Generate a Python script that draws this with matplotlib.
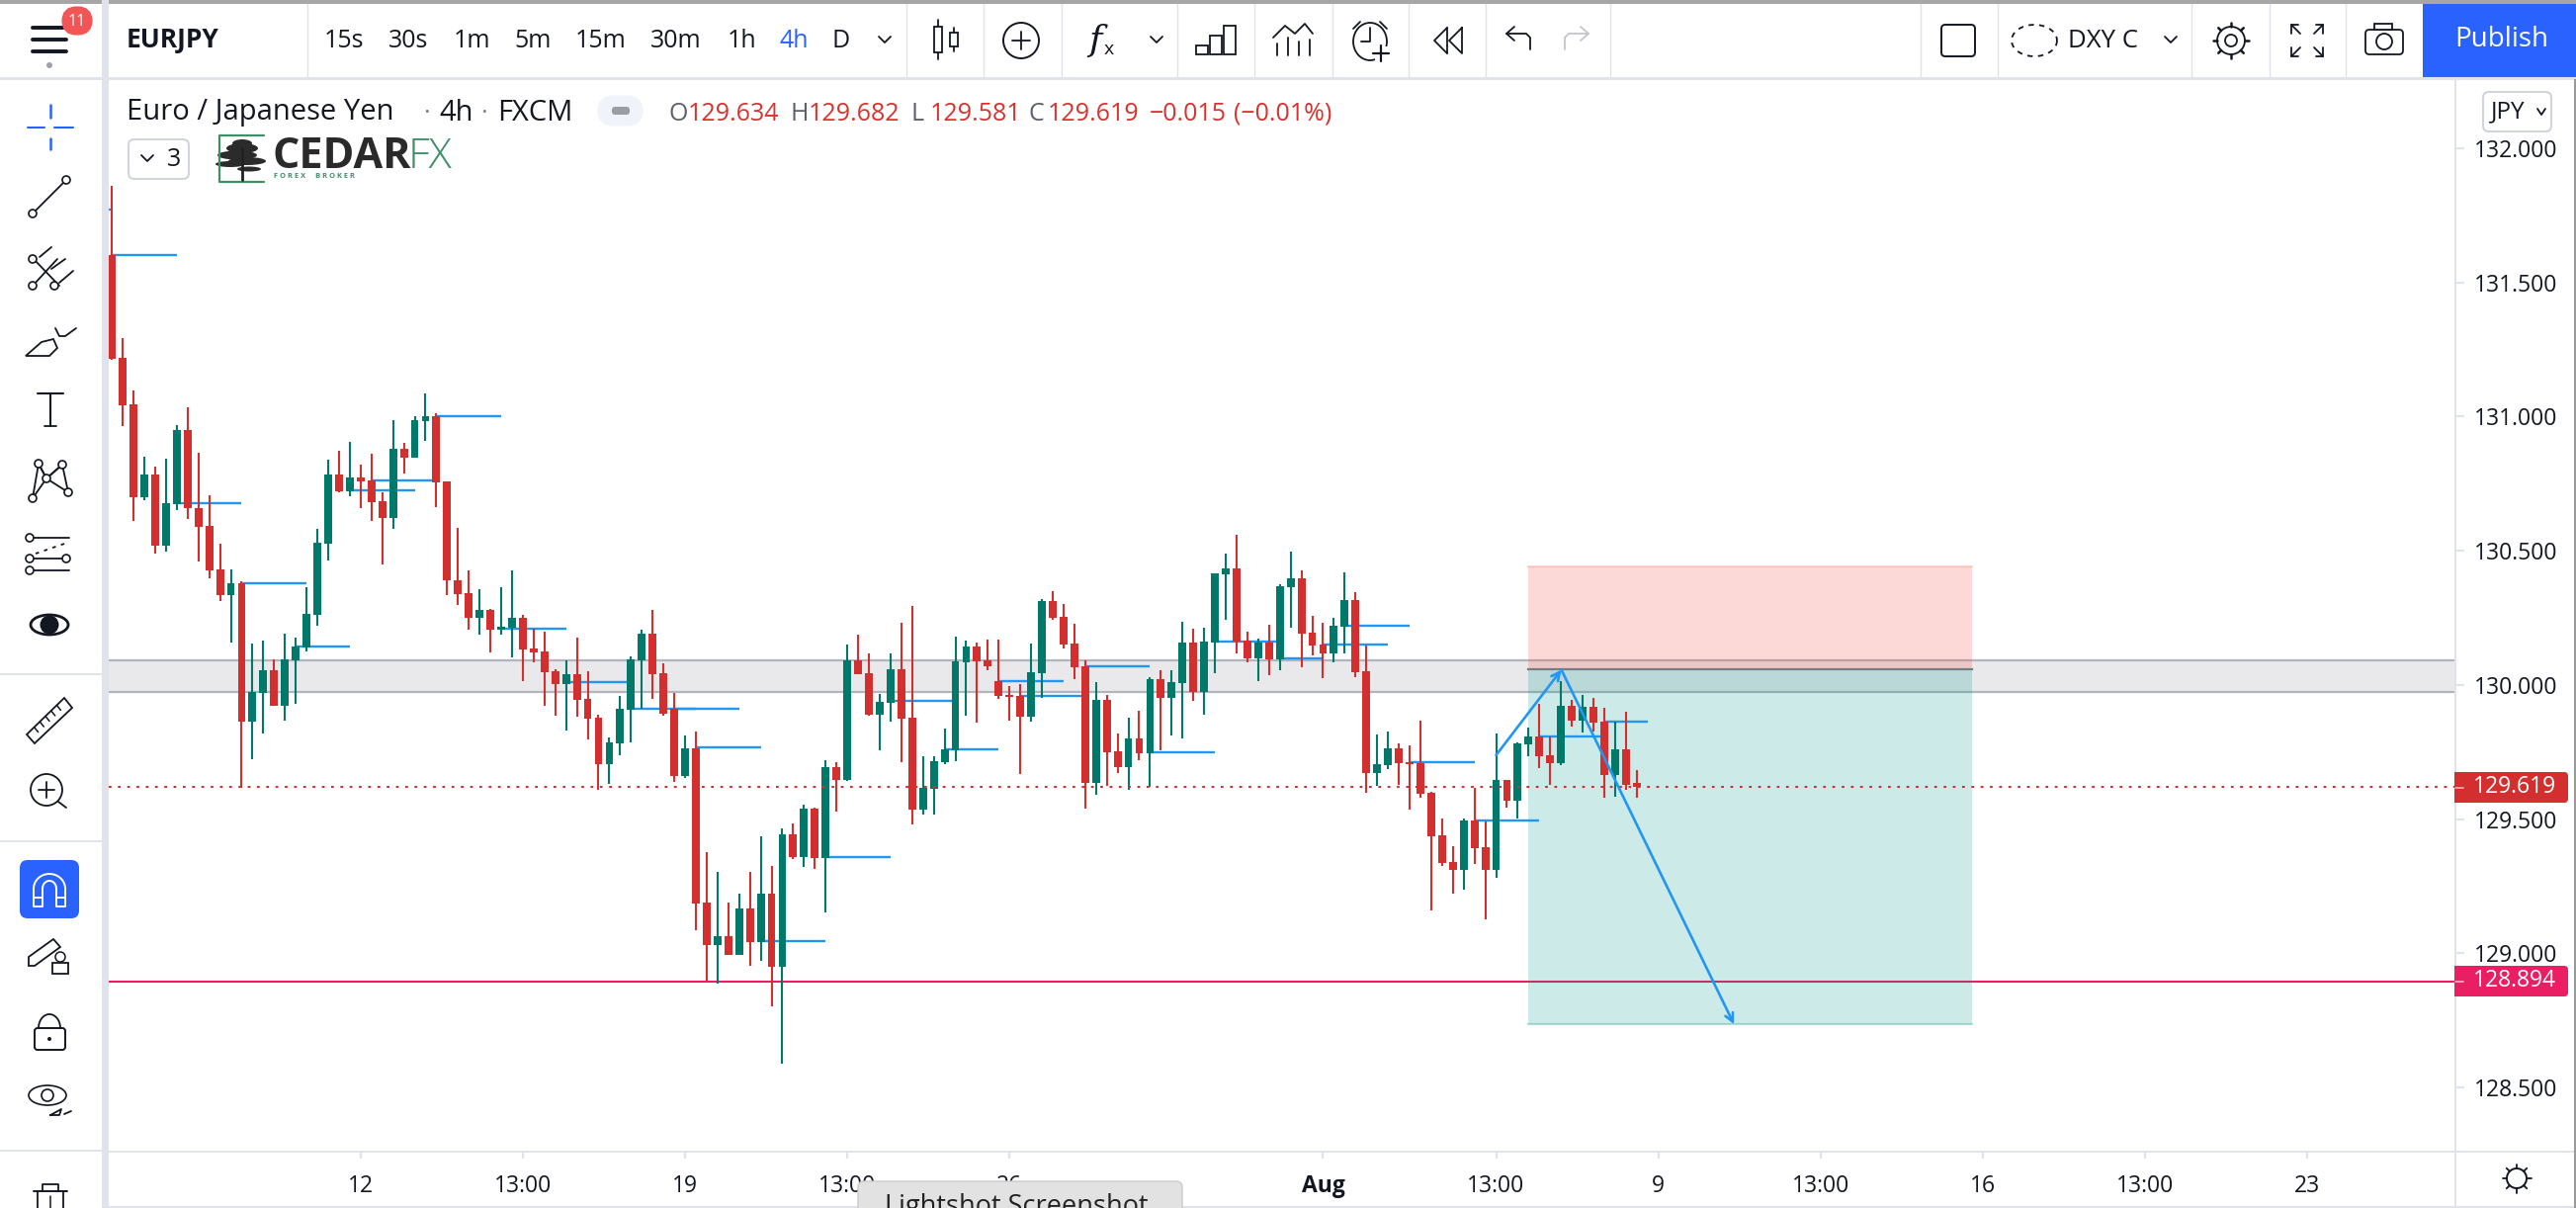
import matplotlib
matplotlib.use('Agg')
import matplotlib.pyplot as plt
from matplotlib.patches import Rectangle, FancyBboxPatch, Circle, Ellipse, Polygon
import numpy as np

plt.rcParams['font.family'] = ['Open Sans', 'DejaVu Sans']

# Candles, 4h EURJPY
opens = [131.603,131.219,131.046,130.701,130.784,130.517,130.675,130.950,130.659,130.593,
         130.431,130.336,130.379,129.864,129.971,130.054,129.922,130.091,130.139,130.262,
         130.528,130.784,130.722,130.773,130.762,130.685,130.623,130.880,130.848,130.984,
         131.002,130.759,130.390,130.342,130.251,130.280,130.207,130.213,130.250,130.135,
         130.124,130.051,130.003,130.040,129.947,129.877,129.704,129.782,129.907,130.091,
         130.191,130.043,129.911,129.660,129.763,129.189,129.030,129.063,128.993,129.166,
         129.041,129.222,128.949,129.443,129.358,129.539,129.354,129.693,129.645,130.091,
         130.043,129.889,129.933,130.059,129.878,129.535,129.613,129.712,129.757,130.084,
         130.143,130.092,130.014,129.963,129.959,129.882,130.044,130.313,130.254,130.154,
         130.070,129.635,129.944,129.753,129.694,129.801,129.745,130.022,129.952,130.007,
         130.158,129.974,130.158,130.412,130.434,130.165,130.099,130.158,130.095,130.364,
         130.398,130.195,130.151,130.118,130.217,130.316,130.051,129.672,129.701,129.764,
         129.712,129.710,129.598,129.439,129.340,129.310,129.495,129.395,129.310,129.646,
         129.568,129.778,129.808,129.738,129.708,129.922,129.867,129.918,129.863,129.664,
         129.760,129.634]
closes = [131.214,131.042,130.701,130.784,130.517,130.677,130.950,130.657,130.590,130.428,
          130.336,130.379,129.864,129.973,130.054,129.922,130.095,130.143,130.265,130.530,
          130.784,130.722,130.773,130.760,130.682,130.623,130.880,130.848,130.987,131.002,
          130.756,130.388,130.340,130.251,130.280,130.207,130.217,130.250,130.133,130.121,
          130.047,130.003,130.040,129.944,129.874,129.704,129.785,129.911,130.095,130.191,
          130.040,129.892,129.660,129.763,129.185,129.030,129.063,128.993,129.166,129.041,
          129.222,128.949,129.443,129.358,129.539,129.354,129.693,129.645,130.091,130.040,
          129.889,129.936,130.059,129.874,129.535,129.617,129.716,129.760,130.088,130.143,
          130.088,130.070,129.959,129.955,129.882,130.048,130.313,130.250,130.151,130.066,
          129.635,129.944,129.749,129.694,129.801,129.745,130.022,129.952,130.011,130.158,
          129.974,130.162,130.416,130.434,130.162,130.099,130.158,130.095,130.368,130.398,
          130.191,130.147,130.118,130.221,130.316,130.048,129.672,129.705,129.764,129.709,
          129.705,129.594,129.436,129.336,129.310,129.495,129.391,129.310,129.646,129.568,
          129.782,129.808,129.734,129.708,129.922,129.867,129.918,129.859,129.664,129.760,
          129.627,129.619]
highs = [131.861,131.293,131.097,130.851,130.814,130.843,130.968,131.035,130.865,130.707,
         130.526,130.431,130.385,130.154,130.165,130.095,130.191,130.176,130.364,130.582,
         130.840,130.873,130.906,130.821,130.862,130.718,130.987,130.902,131.002,131.086,
         131.013,130.759,130.585,130.427,130.357,130.283,130.364,130.427,130.261,130.209,
         130.198,130.058,130.091,130.176,130.051,129.889,129.804,129.959,130.106,130.205,
         130.280,130.080,129.970,129.811,129.826,129.376,129.303,129.189,129.222,129.303,
         129.435,129.325,129.465,129.483,129.553,129.542,129.719,129.712,130.150,130.187,
         130.117,129.966,130.118,130.232,130.294,129.734,129.734,129.838,130.180,130.165,
         130.158,130.169,130.169,129.996,130.003,130.154,130.320,130.350,130.302,130.228,
         130.092,130.011,129.963,129.819,129.878,129.904,130.029,130.055,130.055,130.235,
         130.210,130.213,130.416,130.490,130.560,130.199,130.173,130.224,130.375,130.497,
         130.427,130.258,130.232,130.250,130.420,130.346,130.147,129.815,129.826,129.782,
         129.775,129.867,129.601,129.502,129.399,129.502,129.616,129.491,129.819,129.646,
         129.786,129.841,129.929,129.808,130.014,129.944,129.963,129.951,129.915,129.863,
         129.900,129.682]
lows = [131.212,130.965,130.612,130.690,130.490,130.495,130.653,130.620,130.458,130.399,
        130.314,130.157,129.617,129.723,129.819,129.922,129.866,129.929,130.124,130.222,
        130.465,130.718,130.704,130.657,130.612,130.447,130.583,130.789,130.848,130.911,
        130.664,130.336,130.296,130.207,130.189,130.121,130.187,130.102,130.014,130.084,
        129.922,129.885,129.830,129.881,129.796,129.609,129.631,129.737,129.785,129.911,
        129.947,129.885,129.638,129.653,129.085,128.898,128.886,128.993,128.993,128.953,
        128.971,128.802,128.589,129.351,129.321,129.314,129.152,129.527,129.642,130.040,
        129.885,129.756,129.863,129.712,129.480,129.517,129.517,129.705,129.716,129.885,
        129.860,130.055,129.948,129.867,129.668,129.863,129.952,130.243,130.136,130.022,
        129.539,129.591,129.624,129.672,129.609,129.720,129.620,129.757,129.812,129.801,
        129.941,129.889,130.044,130.243,130.118,130.084,130.014,130.037,130.055,130.213,
        130.066,130.110,130.025,130.084,130.118,130.029,129.598,129.624,129.687,129.628,
        129.535,129.580,129.159,129.325,129.222,129.237,129.332,129.126,129.281,129.543,
        129.502,129.734,129.690,129.627,129.701,129.845,129.823,129.826,129.579,129.583,
        129.609,129.581]

# Short blue level lines: price, first bar, last bar
level_prices = [131.773,131.603,130.679,130.379,131.003,130.762,130.725,130.210,130.143,130.009,
                129.911,129.911,129.766,129.044,129.358,129.939,129.760,130.014,129.959,130.070,
                129.749,130.163,130.099,130.221,130.151,129.713,129.495,129.808,129.863]
level_starts = [-0.3,0,6,12,30,24,22,36,17,42,48,52,54,60,66,72,77,82,84,90,96,102,108,114,112,120,126,132,138]
level_ends = [0,6,12,18,36,30,28,42,22,48,54,58,60,66,72,78,82,88,90,96,102,108,112,120,118,126,132,138,142]

# Axis ticks
price_ticks = [128.5, 129.0, 129.5, 130.0, 130.5, 131.0, 131.5, 132.0]
time_ticks = [23, 38, 53, 68, 83, 112, 128, 143, 158, 173, 188, 203]
time_labels = ['12', '13:00', '19', '13:00', '26', 'Aug', '13:00', '9', '13:00', '16', '13:00', '23']

# Drawings on the chart
zone_low, zone_high = 129.973, 130.092
last_price = 129.619
target_line = 128.894
position_left, position_right = 131, 172
position_stop, position_entry, position_target = 130.440, 130.060, 128.735
path_x = [128, 134.04, 150]
path_y = [129.738, 130.056, 128.735]

W, H = 2606, 1222
GREEN, RED = '#00796b', '#d32f2f'
BLUE = '#2196f3'
INK = '#131722'
EDGE = '#e0e3eb'
ACCENT = '#2962ff'

fig = plt.figure(figsize=(W / 100, H / 100), dpi=100, facecolor='white')

# Main price pane, x is the bar number
ax = fig.add_axes([110 / W, 1 - 1164 / H, (2484 - 110) / W, (1164 - 80) / H])
ax.set_xlim((110 - 113.2) / 10.94, (2484 - 113.2) / 10.94)
ax.set_ylim(132 - (1164 - 150) / 271.4, 132 + 70 / 271.4)
for s in ax.spines.values():
    s.set_visible(False)
ax.yaxis.tick_right()
ax.set_yticks(price_ticks)
ax.set_yticklabels(['%.3f' % p for p in price_ticks], fontsize=16.5, color=INK)
ax.set_xticks(time_ticks)
ax.set_xticklabels(time_labels, fontsize=16.5, color=INK)
ax.get_xticklabels()[5].set_fontweight('bold')
ax.tick_params(axis='y', length=6.5, width=1.6, color=EDGE, pad=7)
ax.tick_params(axis='x', length=6, width=1.6, color=EDGE, pad=11)

ax.axhspan(zone_low, zone_high, color='#787b86', alpha=0.16, lw=0, zorder=1)
ax.axhline(zone_low, color='#b2b5be', lw=1.6, zorder=1)
ax.axhline(zone_high, color='#b2b5be', lw=1.6, zorder=1)
ax.axhline(target_line, color='#e91e63', lw=1.5, zorder=1)

# Position tool
ax.add_patch(Rectangle((position_left, position_entry), position_right - position_left,
                       position_stop - position_entry, fc='#f44336', alpha=0.2, lw=0, zorder=2))
ax.add_patch(Rectangle((position_left, position_target), position_right - position_left,
                       position_entry - position_target, fc='#009688', alpha=0.2, lw=0, zorder=2))
ax.plot([position_left, position_right], [position_entry] * 2, color='#787b86', lw=1.6, zorder=2)
ax.plot([position_left, position_right], [position_stop] * 2, color='#f44336', alpha=0.2, lw=1.5, zorder=2)
ax.plot([position_left, position_right], [position_target] * 2, color='#009688', alpha=0.3, lw=1.5, zorder=2)

# Candles
x = np.arange(len(opens))
o, c, h, l = np.array(opens), np.array(closes), np.array(highs), np.array(lows)
colors = [GREEN if a >= b else RED for a, b in zip(c, o)]
ax.vlines(x, l, h, colors=colors, lw=1.5, zorder=4)
ax.bar(x, np.maximum(np.abs(c - o), 0.006), bottom=np.minimum(o, c), width=0.72, color=colors, lw=0, zorder=4)

ax.hlines(level_prices, level_starts, level_ends, colors=BLUE, lw=1.7, zorder=3)
ax.axhline(last_price, color=RED, lw=1.5, ls=(0, (1.3, 3.2)), zorder=5)

# Blue zigzag with arrow heads
for i in range(2):
    ax.annotate('', xy=(path_x[i + 1], path_y[i + 1]), xytext=(path_x[i], path_y[i]),
                arrowprops=dict(arrowstyle='->', color=BLUE, lw=1.9, mutation_scale=15,
                                shrinkA=0, shrinkB=0), zorder=6)

# Everything around the chart is drawn in pixel coordinates on a clear overlay
ui = fig.add_axes([0, 0, 1, 1], facecolor='none')
ui.set_xlim(0, W)
ui.set_ylim(H, 0)
ui.axis('off')


def line(xs, ys, color=INK, lw=1.3, **kw):
    ui.plot(xs, ys, color=color, lw=lw, solid_capstyle='round', **kw)


def label(px, py, s, size=16, color=INK, ha='left', **kw):
    ui.text(px, py, s, fontsize=size, color=color, ha=ha, va='center', **kw)


def ring(px, py, r=4, lw=1.2, color=INK):
    ui.add_patch(Circle((px, py), r, fc='white', ec=color, lw=lw, zorder=5))


def chevron(px, py, w=6, color=INK):
    line([px - w, px, px + w], [py - 3, py + 3, py - 3], color=color)


# Frame of the panes
ui.add_patch(Rectangle((0, 0), W, 4, fc='#a6a6a6', lw=0))
ui.add_patch(Rectangle((0, 78), W, 2.5, fc=EDGE, lw=0))
ui.add_patch(Rectangle((103, 0), 7, H, fc=EDGE, lw=0))
ui.add_patch(Rectangle((110, 1163.5), W - 110, 2.5, fc=EDGE, lw=0))
ui.add_patch(Rectangle((2482.5, 80), 2, H - 80, fc=EDGE, lw=0))
ui.add_patch(Rectangle((110, 1219.5), W - 110, 3, fc=EDGE, lw=0))
ui.add_patch(Rectangle((2604, 80), 2, H - 80, fc='#9a9a9a', lw=0))
for py in [681, 850, 1163]:
    ui.add_patch(Rectangle((0, py), 103, 2, fc=EDGE, lw=0))
for px in [311, 917, 995, 1074, 1191, 1269, 1347.5, 1425, 1503, 1629, 1942.5, 2021, 2217, 2296, 2373]:
    ui.plot([px, px], [4, 78], color=EDGE, lw=1)

# Top bar, left part
for py in [28, 40, 52]:
    line([33, 67], [py, py], lw=2.8)
ui.add_patch(Circle((50, 66), 3, fc='#a0a3ab', lw=0))
ui.add_patch(FancyBboxPatch((68, 12), 20, 18, boxstyle='round,pad=0,rounding_size=9', fc='#f25555', ec='#f25555', lw=8, zorder=4))
label(77.5, 21.5, '11', size=11.5, color='white', ha='center', zorder=6)
label(128, 41, 'EURJPY', size=19, fontweight='bold')
interval_names = ['15s', '30s', '1m', '5m', '15m', '30m', '1h', '4h', 'D']
interval_pos = [348, 413, 477, 539, 608, 684, 750, 803, 851]
for name, px in zip(interval_names, interval_pos):
    label(px, 41, name, size=18, ha='center', color=ACCENT if name == '4h' else INK)
chevron(895, 40)

# Candle icon
line([949, 949], [20, 60])
line([965, 965], [28, 52])
ui.add_patch(Rectangle((945, 27), 8, 26, fc='white', ec=INK, lw=1.3, zorder=3))
ui.add_patch(Rectangle((961, 33), 8, 14, fc='white', ec=INK, lw=1.3, zorder=3))
# Plus in circle
ui.add_patch(Circle((1033, 41), 18, fc='none', ec=INK, lw=1.4))
line([1024, 1042], [41, 41])
line([1033, 1033], [32, 50])
# fx
label(1108, 41, 'f', size=26, ha='center', style='italic', family='DejaVu Serif')
label(1122, 50, 'x', size=14, ha='center')
chevron(1170, 40)
# Bars icon
for px, top in [(1216, 46), (1230, 36), (1244, 26)]:
    ui.add_patch(Rectangle((px - 6, top), 12, 55 - top, fc='white', ec=INK, lw=1.3))
# Line and bars icon
line([1288, 1300, 1310, 1320, 1328], [38, 26, 34, 24, 34])
for px, top in [(1292, 44), (1303, 38), (1314, 42), (1325, 40)]:
    line([px, px], [top, 56])
# Alarm
ui.add_patch(Ellipse((1386, 42), 34, 38, fc='none', ec=INK, lw=1.3))
line([1386, 1386, 1377], [28, 42, 42])
line([1369, 1376], [29, 22])
line([1403, 1396], [29, 22])
ui.add_patch(Rectangle((1391, 47), 16, 15, fc='white', lw=0, zorder=2.5))
line([1397, 1397], [46, 62], lw=1.6, zorder=3)
line([1389, 1405], [54, 54], lw=1.6, zorder=3)
# Rewind
line([1464, 1451, 1464], [28, 41, 54])
line([1479, 1466, 1479, 1479], [28, 41, 54, 28])
line([1464, 1464], [28, 54])
# Undo, redo
line([1548, 1548, 1544, 1524], [50, 38, 34, 34])
line([1532, 1524, 1532], [27, 34, 41])
line([1583, 1583, 1587, 1607], [50, 38, 34, 34], color='#c4c6cc')
line([1599, 1607, 1599], [27, 34, 41], color='#c4c6cc')
# Rectangle, cloud
ui.add_patch(FancyBboxPatch((1964, 25), 34, 32, boxstyle='round,pad=0,rounding_size=4', fc='white', ec=INK, lw=1.4))
cloud_t = np.linspace(0, 2 * np.pi, 40)
ui.plot(2058 + 23 * np.cos(cloud_t), 41 + 16 * np.sin(cloud_t), color=INK, lw=1.3, ls=(0, (3, 3)))
label(2092, 41, 'DXY C', size=18.5)
chevron(2196, 40)
# Gear
ui.add_patch(Circle((2257, 41), 14, fc='white', ec=INK, lw=1.3))
ui.add_patch(Circle((2257, 41), 6, fc='white', ec=INK, lw=1.3))
for a in np.arange(0, 2 * np.pi, np.pi / 4):
    line([2257 + 14 * np.cos(a), 2257 + 18 * np.cos(a)], [41 + 14 * np.sin(a), 41 + 18 * np.sin(a)], lw=1.8)
# Fullscreen
for sx, sy in [(-1, -1), (1, -1), (-1, 1), (1, 1)]:
    line([2334 + sx * 7, 2334 + sx * 16], [41 + sy * 7, 41 + sy * 16])
    line([2334 + sx * 16, 2334 + sx * 16, 2334 + sx * 9], [41 + sy * 7, 41 + sy * 16, 41 + sy * 16])
# Camera
ui.add_patch(FancyBboxPatch((2393, 30), 38, 25, boxstyle='round,pad=0,rounding_size=4', fc='white', ec=INK, lw=1.3))
ui.add_patch(Rectangle((2402, 24), 18, 6, fc='white', ec=INK, lw=1.3))
ui.add_patch(Circle((2412, 42), 8, fc='white', ec=INK, lw=1.3))
# Publish
ui.add_patch(Rectangle((2451, 4), W - 2451, 74, fc=ACCENT, lw=0))
label(2531, 40, 'Publish', size=20, color='white', ha='center')

# Legend row
label(128, 114, 'Euro / Japanese Yen', size=21)
label(431, 114, '·', size=18, color='#787b86', ha='center')
label(444, 114, '4h', size=21)
label(489, 114, '·', size=18, color='#787b86', ha='center')
label(503, 114, 'FXCM', size=21)
ui.add_patch(FancyBboxPatch((610, 102), 35, 20, boxstyle='round,pad=0,rounding_size=10', fc='#f0f3fa', ec='#f0f3fa', lw=8))
ui.add_patch(FancyBboxPatch((619, 108), 18, 8, boxstyle='round,pad=0,rounding_size=3', fc='#9a9da5', lw=0))
ohlc_x = [677, 799, 922, 1041]
ohlc_names = ['O', 'H', 'L', 'C']
ohlc_vals = ['129.634', '129.682', '129.581', '129.619']
for px, n, v in zip(ohlc_x, ohlc_names, ohlc_vals):
    label(px, 115, n, size=18, color='#5d606b')
    label(px + 19, 115, v, size=18, color='#d9322e')
label(1163, 115, '\u22120.015', size=18, color='#d9322e')
label(1248, 115, '(\u22120.01%)', size=18, color='#d9322e')

# Collapse button with count
ui.add_patch(FancyBboxPatch((130, 141), 61, 40, boxstyle='round,pad=0,rounding_size=6', fc='white', ec='#d1d4dc', lw=1.5))
chevron(149, 160)
label(176, 161, '3', size=18, ha='center')

# CedarFX logo
logo_green = '#3d8f68'
line([267, 222, 222, 267], [137, 137, 184, 184], color=logo_green, lw=1.6)
line([245, 245], [150, 182], color='#222222', lw=2)
for ex, ey, ew, eh in [(245, 150, 32, 10), (240, 157, 40, 9), (250, 163, 38, 8), (233, 166, 30, 6), (245, 145, 20, 8), (252, 171, 24, 5)]:
    ui.add_patch(Ellipse((ex, ey), ew, eh, fc='#2b2b2b', lw=0))
label(275, 159, 'CEDAR', size=31, color='#2a2a2a', fontweight='bold')
label(413, 159, 'FX', size=31, color=logo_green, fontweight='light')
label(277, 179, 'F O R E X     B R O K E R', size=5.4, color=logo_green, fontweight='bold')

# JPY button
ui.add_patch(FancyBboxPatch((2512, 93), 69, 40, boxstyle='round,pad=0,rounding_size=6', fc='white', ec='#d1d4dc', lw=1.5))
label(2520, 113, 'JPY', size=17.5)
chevron(2571, 113, w=4)

# Price tags
ui.add_patch(FancyBboxPatch((2484, 781), 114, 31, boxstyle='round,pad=0,rounding_size=4', fc=RED, lw=0, zorder=7))
ui.add_patch(FancyBboxPatch((2484, 977), 114, 31, boxstyle='round,pad=0,rounding_size=4', fc='#e91e63', lw=0, zorder=7))
ui.add_patch(Rectangle((2483, 781), 10, 31, fc=RED, lw=0, zorder=7))
ui.add_patch(Rectangle((2483, 977), 10, 31, fc='#e91e63', lw=0, zorder=7))
label(2586, 796.5, '%.3f' % last_price, size=16.5, color='white', ha='right', zorder=8)
label(2586, 992.5, '%.3f' % target_line, size=16.5, color='white', ha='right', zorder=8)
line([2484, 2492], [796.7, 796.7], color='#f4b0b0', lw=1.2, zorder=8)
line([2484, 2492], [993, 993], color='#f7b5c9', lw=1.2, zorder=8)

# Settings sun, bottom right
ui.add_patch(Circle((2546, 1192), 10, fc='white', ec=INK, lw=1.4))
for a in np.arange(0, 2 * np.pi, np.pi / 4):
    line([2546 + 10 * np.cos(a), 2546 + 14.5 * np.cos(a)], [1192 + 10 * np.sin(a), 1192 + 14.5 * np.sin(a)], lw=1.3)

# Left tool strip
line([28, 45], [129, 129], color=ACCENT, lw=1.5)
line([55, 74], [129, 129], color=ACCENT, lw=1.5)
line([51, 51], [106, 119], color=ACCENT, lw=1.8)
line([51, 51], [140, 151], color=ACCENT, lw=1.8)
# Trend line
line([33, 67], [216, 182])
ring(33, 216)
ring(67, 182)
# Fork
line([34, 60], [262, 289])
line([34, 58], [288, 262])
line([40, 52], [260, 250])
line([52, 66], [272, 262])
line([60, 74], [286, 274])
for rx, ry in [(33, 262), (33, 289), (55, 289)]:
    ring(rx, ry)
# Brush
ui.add_patch(Polygon([[26, 360], [42, 346], [54, 343], [58, 352], [50, 360]], closed=True, fc='white', ec=INK, lw=1.3))
line([56, 60, 66, 77], [332, 340, 340, 332])
# T
line([38, 64], [398, 398], lw=1.5)
line([51, 51], [398, 431], lw=1.5)
line([45, 57], [431, 431])
# Pattern
line([33, 39, 47, 63, 69], [504, 469, 484, 470, 498])
line([33, 47, 69], [504, 484, 498])
line([39, 47, 63], [469, 484, 470])
for rx, ry in [(33, 504), (39, 469), (47, 484), (63, 470), (69, 498)]:
    ring(rx, ry)
# Forecast
line([30, 70], [544, 544])
line([30, 70], [565, 565])
line([30, 70], [577, 577])
line([36, 68], [560, 549], ls=(0, (2, 3)))
for rx, ry in [(30, 544), (30, 565), (30, 577), (67, 565)]:
    ring(rx, ry)
# Eye
ui.add_patch(Ellipse((50, 632), 38, 20, fc='white', ec=INK, lw=2))
ui.add_patch(Circle((50, 632), 9.5, fc=INK, lw=0))
# Ruler
ui.add_patch(Polygon([[27, 743], [65, 706], [73, 716], [35, 752]], closed=True, fc='white', ec=INK, lw=1.3))
for t in [0.2, 0.35, 0.5, 0.65, 0.8]:
    line([27 + 38 * t, 31 + 38 * t], [743 - 37 * t, 748 - 37 * t], lw=1.1)
# Zoom
ui.add_patch(Circle((47, 799), 16, fc='white', ec=INK, lw=1.3))
line([39, 55], [799, 799])
line([47, 47], [791, 807])
line([59, 67], [811, 817])
# Magnet on blue
ui.add_patch(FancyBboxPatch((20, 870), 60, 59, boxstyle='round,pad=0,rounding_size=8', fc=ACCENT, lw=0))
mag_t = np.linspace(np.pi, 2 * np.pi, 30)
ui.plot(50 + 16 * np.cos(mag_t), 899 + 15 * np.sin(mag_t), color='white', lw=1.4)
ui.plot(50 + 7 * np.cos(mag_t), 899 + 8 * np.sin(mag_t), color='white', lw=1.4)
for xa, xb in [(34, 43), (57, 66)]:
    line([xa, xa, xb, xb], [899, 917, 917, 899], color='white', lw=1.4)
    line([xa, xb], [908, 908], color='white', lw=1.4)
# Pencil with lock
ui.add_patch(Polygon([[29, 968], [54, 950], [61, 958], [35, 977], [29, 977]], closed=True, fc='white', ec=INK, lw=1.3))
ui.add_patch(Rectangle((53, 974), 16, 11, fc='white', ec=INK, lw=1.3))
ui.add_patch(Circle((61, 968), 5, fc='none', ec=INK, lw=1.1))
# Lock
ui.add_patch(FancyBboxPatch((35, 1040), 31, 22, boxstyle='round,pad=0,rounding_size=3', fc='white', ec=INK, lw=1.4))
ui.add_patch(Circle((50, 1051), 2, fc=INK, lw=0))
ui.plot(50 + 11 * np.cos(mag_t), 1040 + 14 * np.sin(mag_t), color=INK, lw=1.3)
# Eye with brush
ui.add_patch(Ellipse((48, 1108), 38, 20, fc='white', ec=INK, lw=1.2))
ui.add_patch(Circle((48, 1108), 6, fc='white', ec=INK, lw=1.2))
line([51, 62, 60, 51], [1128, 1122, 1128, 1128])
line([65, 72], [1127, 1124])
# Trash
line([34, 68], [1205, 1205], lw=1.4)
line([43, 43, 59, 59], [1205, 1198, 1198, 1205])
line([38, 38], [1205, H], lw=1.3)
line([64, 64], [1205, H], lw=1.3)
line([51, 51], [1210, H], lw=1.1)

# Browser tooltip cut by the bottom edge
ui.add_patch(FancyBboxPatch((868, 1195), 328, 60, boxstyle='round,pad=0,rounding_size=6', fc='#e2e2e2', ec='#cccccc', lw=1, zorder=9))
label(895, 1221, 'Lightshot Screenshot', size=19.5, color='#222222', zorder=10, clip_on=True)

fig.savefig('out.png', dpi=100)
